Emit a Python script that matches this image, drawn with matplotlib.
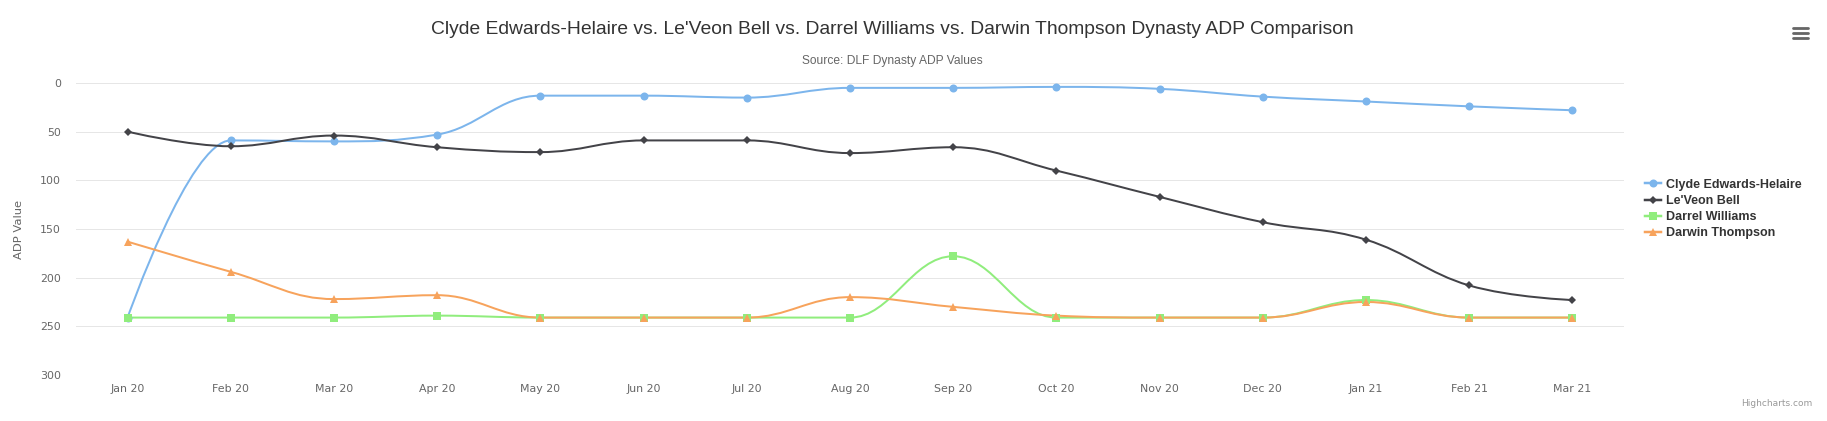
import matplotlib
matplotlib.use("Agg")
import matplotlib.pyplot as plt
import numpy as np
from matplotlib.path import Path
from matplotlib.patches import PathPatch
from matplotlib.lines import Line2D

# Data (ADP values, lower = better)
months = ["Jan 20", "Feb 20", "Mar 20", "Apr 20", "May 20", "Jun 20", "Jul 20", "Aug 20",
          "Sep 20", "Oct 20", "Nov 20", "Dec 20", "Jan 21", "Feb 21", "Mar 21"]
edwards_helaire = [241, 59, 60, 53, 13, 13, 15, 5, 5, 4, 6, 14, 19, 24, 28]
bell = [50, 65, 54, 66, 71, 59, 59, 72, 66, 90, 117, 143, 161, 208, 223]
williams = [241, 241, 241, 239, 241, 241, 241, 241, 178, 241, 241, 241, 223, 241, 241]
thompson = [163, 194, 222, 218, 241, 241, 241, 220, 230, 239, 241, 241, 225, 241, 241]

series_names = ["Clyde Edwards-Helaire", "Le'Veon Bell", "Darrel Williams", "Darwin Thompson"]
series_values = [edwards_helaire, bell, williams, thompson]
series_colors = ["#7cb5ec", "#434348", "#90ed7d", "#f7a35c"]
series_markers = ["o", "D", "s", "^"]

W, H = 1827, 421
PX = 0.72  # points per pixel at dpi 100


def spline_path(xs, ys, smoothing=1.5, denom=2.5):
    # same control point logic as a Highcharts spline series
    n = len(xs)
    left = [None] * n
    right = [None] * n
    for i in range(1, n - 1):
        px, py = xs[i], ys[i]
        lx, ly = xs[i - 1], ys[i - 1]
        nx, ny = xs[i + 1], ys[i + 1]
        lcx = (smoothing * px + lx) / denom
        lcy = (smoothing * py + ly) / denom
        rcx = (smoothing * px + nx) / denom
        rcy = (smoothing * py + ny) / denom
        if rcx != lcx:
            corr = ((rcy - lcy) * (rcx - px)) / (rcx - lcx) + py - rcy
            lcy += corr
            rcy += corr
        if lcy > max(ly, py):
            lcy = max(ly, py)
            rcy = 2 * py - lcy
        elif lcy < min(ly, py):
            lcy = min(ly, py)
            rcy = 2 * py - lcy
        if rcy > max(py, ny):
            rcy = max(py, ny)
            lcy = 2 * py - rcy
        elif rcy < min(py, ny):
            rcy = min(py, ny)
            lcy = 2 * py - rcy
        left[i] = (lcx, lcy)
        right[i] = (rcx, rcy)

    verts = [(xs[0], ys[0])]
    codes = [Path.MOVETO]
    for i in range(1, n):
        c1 = right[i - 1] if right[i - 1] is not None else (xs[i - 1], ys[i - 1])
        c2 = left[i] if left[i] is not None else (xs[i], ys[i])
        verts += [c1, c2, (xs[i], ys[i])]
        codes += [Path.CURVE4] * 3
    return Path(verts, codes)


fig = plt.figure(figsize=(W / 100, H / 100), dpi=100)
ax = fig.add_axes([76 / W, 1 - 375 / H, (1624 - 76) / W, (375 - 83) / H])

x = np.arange(len(months))
for name, vals, color, marker in zip(series_names, series_values, series_colors, series_markers):
    path = spline_path(list(x), vals)
    ax.add_patch(PathPatch(path, facecolor="none", edgecolor=color, lw=2 * PX, zorder=3,
                           capstyle="round", joinstyle="round"))
    ms = 8 * PX if marker != "D" else 8 * PX / np.sqrt(2) * 1.05
    ax.plot(x, vals, linestyle="none", marker=marker, color=color, ms=ms,
            markeredgewidth=0, zorder=4)

ax.set_xlim(-0.5, len(months) - 0.5)
ax.set_ylim(300, 0)
ax.set_yticks([0, 50, 100, 150, 200, 250, 300])
ax.set_xticks(x)
ax.set_xticklabels(months)

for s in ax.spines.values():
    s.set_visible(False)
ax.grid(axis="y", color="#e6e6e6", lw=1 * PX, zorder=0)
ax.axhline(300, color="#ccd6eb", lw=1 * PX, zorder=1)
ax.axhline(0, color="#7a7a7a", lw=1.5 * PX, zorder=1)

ax.tick_params(axis="both", length=0, labelsize=11 * PX, labelcolor="#666666")
ax.tick_params(axis="y", pad=15 * PX)
ax.tick_params(axis="x", pad=9 * PX)
ax.set_ylabel("ADP Value", fontsize=11.5 * PX, color="#666666")
ax.yaxis.set_label_coords((24 - 76) / (1624 - 76), 0.5)

fig.text(892 / W, 1 - 30 / H, "Clyde Edwards-Helaire vs. Le'Veon Bell vs. Darrel Williams vs. "
         "Darwin Thompson Dynasty ADP Comparison", ha="center", va="center",
         fontsize=19.3 * PX, color="#333333", family="Liberation Sans")
fig.text(892 / W, 1 - 61 / H, "Source: DLF Dynasty ADP Values", ha="center", va="center",
         fontsize=12 * PX, color="#666666", family="Liberation Sans")
fig.text(1812 / W, 1 - 403 / H, "Highcharts.com", ha="right", va="center",
         fontsize=9 * PX, color="#999999")

# menu icon
for yy in (28, 33, 38):
    fig.add_artist(Line2D([1793 / W, 1808 / W], [1 - yy / H, 1 - yy / H], transform=fig.transFigure,
                          color="#666666", lw=2.8 * PX, solid_capstyle="round"))

handles = [Line2D([], [], color=c, marker=m, lw=2.5 * PX, markeredgewidth=0,
                  ms=(8 * PX if m != "D" else 8 * PX / np.sqrt(2) * 1.05))
           for c, m in zip(series_colors, series_markers)]
leg = fig.legend(handles, series_names, loc="center left", bbox_to_anchor=(1645 / W, 1 - 209 / H),
                 frameon=False, borderpad=0, borderaxespad=0, handlelength=16 / 12.5,
                 handletextpad=0.4, labelspacing=0.33,
                 prop={"family": "Liberation Sans", "weight": "bold", "size": 12.5 * PX})
for t in leg.get_texts():
    t.set_color("#333333")

fig.savefig("out.png", dpi=100)
